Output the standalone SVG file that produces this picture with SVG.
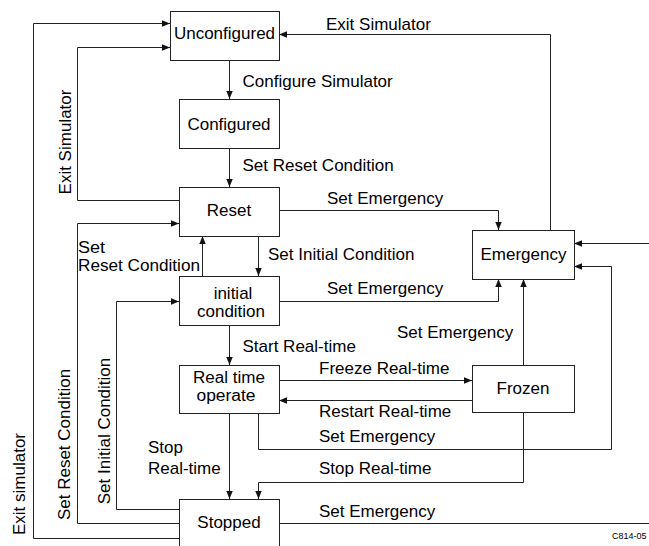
<svg xmlns="http://www.w3.org/2000/svg" width="649" height="546" viewBox="0 0 649 546">
  <style>
    .box { fill: #ffffff; stroke: #222222; stroke-width: 1; }
    .lbl { font-family: "Liberation Sans", Arial, sans-serif; font-size: 17px; fill: #000000; }
    .two { font-size: 16px; }
    .mid { text-anchor: middle; }
    .wire { fill: none; stroke: #222222; stroke-width: 1; }
    .arr { marker-end: url(#head); }
  </style>
  <defs>
    <marker id="head" viewBox="0 0 10 10" refX="10" refY="5" markerWidth="8" markerHeight="8" markerUnits="userSpaceOnUse" orient="auto">
      <path d="M0,1 L10,5 L0,9 Z" fill="#111111"/>
    </marker>
  </defs>
  <rect width="649" height="546" fill="#ffffff"/>

  <!-- transitions -->
  <g id="connectors">
    <path class="wire arr" d="M229.5 60 V99"/>
    <path class="wire arr" d="M229.5 148 V187"/>
    <path class="wire arr" d="M258.5 236 V276"/>
    <path class="wire arr" d="M202.5 276 V236"/>
    <path class="wire arr" d="M179 200.5 H77.5 V47.5 H170"/>
    <path class="wire arr" d="M179 538.5 H33.5 V23.5 H170"/>
    <path class="wire arr" d="M179 523.5 H77.5 V223.5 H179"/>
    <path class="wire arr" d="M179 509.5 H116.5 V301.5 H179"/>
    <path class="wire arr" d="M229.5 325 V365"/>
    <path class="wire arr" d="M279 380.5 H472"/>
    <path class="wire arr" d="M472 400.5 H279"/>
    <path class="wire arr" d="M229.5 413 V499"/>
    <path class="wire arr" d="M523.5 412 V482.5 H258.5 V499"/>
    <path class="wire arr" d="M258.5 413 V449.5 H611.5 V266.5 H574"/>
    <path class="wire arr" d="M523.5 365 V279"/>
    <path class="wire arr" d="M279 301.5 H498.5 V279"/>
    <path class="wire arr" d="M279 210.5 H498.5 V230"/>
    <path class="wire arr" d="M550.5 230 V34.5 H279"/>
    <path class="wire" d="M279 523.5 H649"/>
    <path class="wire arr" d="M649 243.5 H574"/>
  </g>

  <!-- transition labels -->
  <g id="labels">
    <text class="lbl" x="242.5" y="86.7">Configure Simulator</text>
    <text class="lbl" x="242.5" y="171">Set Reset Condition</text>
    <text class="lbl" x="326" y="29.5">Exit Simulator</text>
    <text class="lbl" x="327" y="203.5">Set Emergency</text>
    <text class="lbl" x="268" y="259.5">Set Initial Condition</text>
    <text class="lbl two" x="78" y="252.5" textLength="27" lengthAdjust="spacingAndGlyphs">Set</text>
    <text class="lbl two" x="78" y="271" textLength="122" lengthAdjust="spacingAndGlyphs">Reset Condition</text>
    <text class="lbl" x="327" y="294">Set Emergency</text>
    <text class="lbl" x="397" y="338">Set Emergency</text>
    <text class="lbl" x="242.5" y="352">Start Real-time</text>
    <text class="lbl" x="319" y="374">Freeze Real-time</text>
    <text class="lbl" x="319" y="417">Restart Real-time</text>
    <text class="lbl" x="319" y="442">Set Emergency</text>
    <text class="lbl" x="148" y="453">Stop</text>
    <text class="lbl" x="148" y="474">Real-time</text>
    <text class="lbl" x="319" y="473.5">Stop Real-time</text>
    <text class="lbl" x="319" y="516.5">Set Emergency</text>
    <text class="lbl mid" transform="translate(71 142) rotate(-90)">Exit Simulator</text>
    <text class="lbl mid" transform="translate(70 444.5) rotate(-90)">Set Reset Condition</text>
    <text class="lbl mid" transform="translate(110 431) rotate(-90)">Set Initial Condition</text>
    <text class="lbl mid" transform="translate(25 484) rotate(-90)">Exit simulator</text>
    <text x="612" y="539" font-family="Liberation Sans, Arial, sans-serif" font-size="9" fill="#000000">C814-05</text>
  </g>

  <!-- states -->
  <g id="unconfigured">
    <rect class="box" x="170.5" y="11.5" width="109" height="49"/>
    <text class="lbl mid" x="224.5" y="38.5">Unconfigured</text>
  </g>
  <g id="configured">
    <rect class="box" x="179.5" y="99.5" width="100" height="49"/>
    <text class="lbl mid" x="229" y="130">Configured</text>
  </g>
  <g id="reset">
    <rect class="box" x="179.5" y="187.5" width="100" height="49"/>
    <text class="lbl mid" x="229" y="216">Reset</text>
  </g>
  <g id="initial-condition">
    <rect class="box" x="179.5" y="276.5" width="100" height="49"/>
    <text class="lbl mid" x="233" y="298.5">initial</text>
    <text class="lbl mid" x="231" y="317">condition</text>
  </g>
  <g id="real-time-operate">
    <rect class="box" x="179.5" y="365.5" width="100" height="48"/>
    <text class="lbl mid two" x="229" y="382.5" textLength="72" lengthAdjust="spacingAndGlyphs">Real time</text>
    <text class="lbl mid two" x="226" y="401" textLength="59" lengthAdjust="spacingAndGlyphs">operate</text>
  </g>
  <g id="stopped">
    <rect class="box" x="179.5" y="499.5" width="100" height="60"/>
    <text class="lbl mid" x="229" y="528">Stopped</text>
  </g>
  <g id="emergency">
    <rect class="box" x="472.5" y="230.5" width="102" height="49"/>
    <text class="lbl mid" x="523.5" y="259.5">Emergency</text>
  </g>
  <g id="frozen">
    <rect class="box" x="472.5" y="365.5" width="102" height="47"/>
    <text class="lbl mid" x="523" y="393.5">Frozen</text>
  </g>
</svg>
